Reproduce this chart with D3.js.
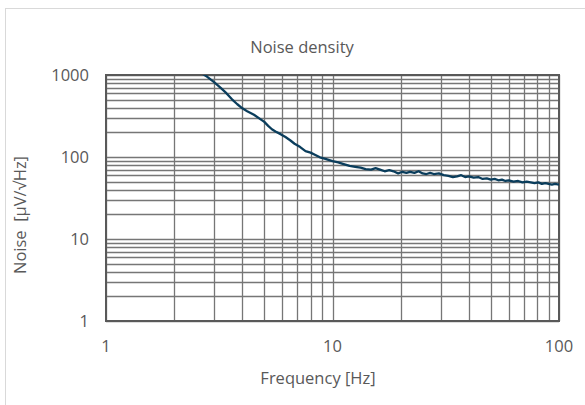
<!DOCTYPE html>
<html>
<head>
<meta charset="utf-8">
<script src="https://cdn.jsdelivr.net/npm/d3@7"></script>
<style>
  body { margin: 0; background: #fff; }
  text { font-family: "Open Sans", sans-serif; fill: #595959; font-size: 16.5px; }
</style>
</head>
<body>
<script>
// measured noise density curve
const freq = [2.6, 2.8, 3.0, 3.2, 3.4, 3.6, 3.8, 4.0, 4.2, 4.5, 4.8, 5.0, 5.2, 5.4, 5.6, 5.9, 6.2, 6.5, 6.8, 7.2,
  7.6, 8.0, 8.4, 8.8, 9.3, 10, 10.6, 11.2, 11.9, 12.6, 13.3, 14, 14.8, 15.5, 16.2, 17, 17.8, 18.6, 19.5, 20.3,
  21.2, 22, 23, 24, 25, 26, 27, 28, 29.5, 31, 32.5, 34, 35.5, 37, 38.5, 40, 42, 44, 46, 48,
  50, 52, 54, 56, 58, 60, 63, 66, 69, 72, 75, 78, 81, 84, 87, 90, 93, 96, 100];
const noise = [1080, 950, 820, 700, 600, 505, 440, 392, 362, 328, 290, 268, 240, 218, 205, 190, 175, 160, 145, 132,
  118, 113, 106, 99, 95, 89, 86, 82, 78, 76, 74, 71, 70, 73, 70, 67, 69, 67, 63, 66,
  64, 66, 64, 67, 63, 62, 64, 62, 63, 60, 59, 57, 58, 60, 57, 58, 56, 57, 54, 55,
  53, 54, 52, 53, 51, 52, 50, 51, 49, 50, 49, 48, 49, 47, 48, 47, 46, 47, 46];

const xTicks = [1, 10, 100];
const yTicks = [1, 10, 100, 1000];

const width = 585, height = 405;
const plotL = 106, plotR = 559, plotT = 75, plotB = 321;

const svg = d3.select('body')
  .append('svg')
  .attr('width', width)
  .attr('height', height);

// chart frame
svg.append('rect')
  .attr('x', 5.5).attr('y', 8.5)
  .attr('width', 620).attr('height', 420)
  .attr('fill', 'none')
  .attr('stroke', '#d9d9d9');

const x = d3.scaleLog().domain([1, 100]).range([plotL, plotR]);
const y = d3.scaleLog().domain([1, 1000]).range([plotB, plotT]);

// log grid: 1..9 of every decade
const gridX = [];
for (let d = 1; d < 100; d *= 10) for (let k = 1; k <= 10; k++) gridX.push(d * k);
const gridY = [];
for (let d = 1; d < 1000; d *= 10) for (let k = 1; k <= 10; k++) gridY.push(d * k);

const grid = svg.append('g')
  .attr('stroke', '#767676')
  .attr('stroke-width', 1.3);

grid.selectAll('line.gx')
  .data(Array.from(new Set(gridX)))
  .enter().append('line')
  .attr('class', 'gx')
  .attr('x1', d => Math.round(x(d)) + 0.5).attr('x2', d => Math.round(x(d)) + 0.5)
  .attr('y1', plotT).attr('y2', plotB);

grid.selectAll('line.gy')
  .data(Array.from(new Set(gridY)))
  .enter().append('line')
  .attr('class', 'gy')
  .attr('y1', d => Math.round(y(d)) + 0.5).attr('y2', d => Math.round(y(d)) + 0.5)
  .attr('x1', plotL).attr('x2', plotR);

svg.append('rect')
  .attr('x', plotL).attr('y', plotT)
  .attr('width', plotR - plotL).attr('height', plotB - plotT)
  .attr('fill', 'none')
  .attr('stroke', '#595959')
  .attr('stroke-width', 2);

// data line
svg.append('clipPath').attr('id', 'plot')
  .append('rect')
  .attr('x', plotL).attr('y', plotT)
  .attr('width', plotR - plotL).attr('height', plotB - plotT);

const line = d3.line()
  .x((d, i) => x(freq[i]))
  .y(d => y(d));

svg.append('path')
  .datum(noise)
  .attr('clip-path', 'url(#plot)')
  .attr('d', line)
  .attr('fill', 'none')
  .attr('stroke', '#0a3d5c')
  .attr('stroke-width', 2.3)
  .attr('stroke-linejoin', 'round');

// tick labels
svg.selectAll('text.xt')
  .data(xTicks)
  .enter().append('text')
  .attr('class', 'xt')
  .attr('x', d => x(d))
  .attr('y', 352)
  .attr('text-anchor', 'middle')
  .text(d => d);

svg.selectAll('text.yt')
  .data(yTicks)
  .enter().append('text')
  .attr('class', 'yt')
  .attr('x', 89)
  .attr('y', d => y(d) + 6)
  .attr('text-anchor', 'end')
  .text(d => d);

// titles
svg.append('text')
  .attr('x', 302).attr('y', 53)
  .attr('text-anchor', 'middle')
  .text('Noise density');

svg.append('text')
  .attr('x', 318).attr('y', 384)
  .attr('text-anchor', 'middle')
  .text('Frequency [Hz]');

svg.append('text')
  .attr('transform', 'translate(26,215) rotate(-90)')
  .attr('text-anchor', 'middle')
  .attr('xml:space', 'preserve')
  .style('white-space', 'pre')
  .text('Noise  [µV/√Hz]');
</script>
</body>
</html>
